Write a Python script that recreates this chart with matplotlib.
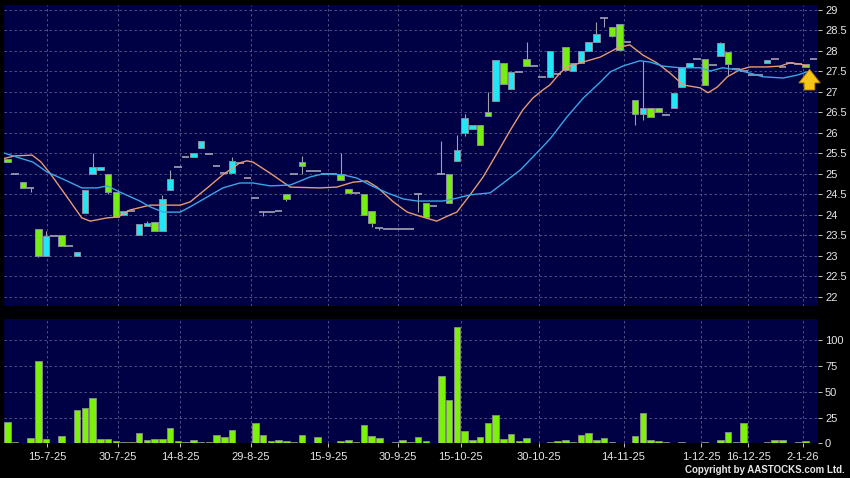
import matplotlib
matplotlib.use("Agg")
import matplotlib.pyplot as plt
import numpy as np

plt.rcParams['font.family'] = ['Liberation Sans', 'DejaVu Sans']

# daily bars (open, high, low, close)
opens = [25.29, 25.0, 24.66, 24.66, 23.0, 23.49, 23.49, 23.24, 23.24, 23.1,
         24.61, 25.17, 25.17, 24.56, 23.95, 24.1, 24.1, 23.78, 23.8, 23.61,
         24.39, 24.88, 25.17, 25.41, 25.51, 25.8, 25.49, 25.2, 25.02, 25.32,
         25.27, 24.9, 24.41, 24.07, 24.07, 24.1, 24.39, 25.0, 25.2, 25.07,
         25.07, 25.0, 25.0, 24.85, 24.54, 24.54, 24.0, 23.8, 23.68, 23.66,
         23.66, 23.66, 23.66, 24.51, 23.95, 24.22, 25.0, 24.29, 25.59, 26.37,
         26.2, 25.7, 26.41, 27.78, 27.2, 27.49, 27.49, 27.63, 27.63, 27.37,
         28.0, 27.45, 27.54, 27.71, 28.0, 28.22, 28.41, 28.8, 28.37, 28.02,
         28.22, 26.46, 26.61, 26.39, 26.51, 26.44, 26.98, 27.61, 27.71, 27.8,
         27.17, 27.66, 28.2, 27.68, 27.56, 27.5, 27.41, 27.41, 27.78, 27.8,
         27.62, 27.7, 27.68, 27.61, 27.8]
closes = [25.37, 25.0, 24.80, 24.66, 23.66, 23.0, 23.49, 23.51, 23.24, 23.0,
          24.05, 25.0, 25.1, 25.0, 24.56, 24.0, 24.1, 23.51, 23.74, 23.83,
          23.61, 24.61, 25.17, 25.41, 25.41, 25.63, 25.49, 25.2, 25.02, 25.02,
          25.27, 24.9, 24.41, 24.07, 24.07, 24.1, 24.51, 25.0, 25.29, 25.07,
          25.07, 25.0, 25.0, 25.0, 24.63, 24.54, 24.51, 24.1, 23.68, 23.66,
          23.66, 23.66, 23.66, 24.51, 24.29, 24.22, 25.0, 25.0, 25.32, 26.0,
          26.1, 26.2, 26.51, 26.78, 27.71, 27.07, 27.49, 27.8, 27.63, 27.37,
          27.37, 27.45, 28.1, 27.51, 27.71, 28.0, 28.22, 28.8, 28.59, 28.66,
          28.22, 26.8, 26.46, 26.61, 26.61, 26.44, 26.61, 27.12, 27.61, 27.8,
          27.8, 27.66, 27.88, 27.98, 27.56, 27.5, 27.41, 27.41, 27.71, 27.8,
          27.62, 27.7, 27.68, 27.68, 27.8]
highs = [25.37, 25.0, 24.80, 24.66, 23.66, 23.62, 23.49, 23.51, 23.24, 23.1,
         24.61, 25.51, 25.17, 25.0, 24.56, 24.1, 24.1, 23.78, 23.85, 23.83,
         24.49, 25.1, 25.17, 25.41, 25.51, 25.8, 25.49, 25.2, 25.02, 25.41,
         25.27, 24.9, 24.41, 24.07, 24.07, 24.1, 24.51, 25.0, 25.44, 25.07,
         25.07, 25.0, 25.0, 25.51, 24.63, 24.54, 24.51, 24.1, 23.68, 23.66,
         23.66, 23.66, 23.66, 24.51, 24.29, 24.22, 25.8, 25.0, 25.95, 26.46,
         26.2, 26.2, 27.0, 27.78, 27.71, 27.49, 27.49, 28.22, 27.63, 27.37,
         28.0, 27.45, 28.1, 27.71, 28.0, 28.22, 28.71, 28.8, 28.59, 28.66,
         28.22, 26.8, 27.75, 26.61, 26.61, 26.44, 26.98, 27.61, 27.71, 27.8,
         27.8, 27.66, 28.22, 27.98, 27.56, 27.5, 27.41, 27.41, 27.78, 27.8,
         27.62, 27.7, 27.68, 27.68, 27.8]
lows = [25.29, 25.0, 24.66, 24.55, 22.98, 23.0, 23.49, 23.24, 23.24, 23.0,
        24.05, 25.0, 25.1, 24.51, 23.95, 24.0, 24.1, 23.51, 23.74, 23.61,
        23.61, 24.61, 25.17, 25.41, 25.41, 25.63, 25.49, 25.2, 25.02, 25.02,
        25.27, 24.9, 24.41, 23.98, 24.07, 24.1, 24.34, 25.0, 25.0, 25.07,
        25.07, 25.0, 25.0, 24.85, 24.54, 24.54, 24.0, 23.71, 23.63, 23.66,
        23.66, 23.66, 23.66, 24.07, 23.95, 24.22, 25.0, 24.29, 25.32, 25.93,
        26.1, 25.7, 26.41, 26.78, 27.2, 27.07, 27.49, 27.63, 27.63, 27.37,
        27.37, 27.45, 27.5, 27.51, 27.71, 28.0, 28.22, 28.59, 28.34, 28.02,
        28.22, 26.2, 26.32, 26.39, 26.51, 26.44, 26.61, 27.12, 27.61, 27.8,
        27.17, 27.66, 27.88, 27.41, 27.56, 27.5, 27.41, 27.41, 27.71, 27.8,
        27.62, 27.7, 27.68, 27.61, 27.8]
volumes = [21, 1, 0.5, 5, 80, 4, 0.5, 7, 0, 32,
           34, 44, 4, 4, 2, 1, 1, 10, 3, 4,
           4, 15, 2, 1, 3, 1, 1, 8, 6, 13,
           0, 0, 20, 8, 2, 3, 2, 1, 8, 0,
           6, 0, 0, 2, 3, 1, 18, 7, 5, 0,
           1, 3, 1, 6, 2, 0, 65, 42, 113, 12,
           3, 6, 20, 28, 4, 9, 2, 5, 0, 0,
           1, 2, 3, 1.5, 8, 10, 3, 5, 1, 0.5,
           0, 7, 29, 3, 2, 1, 0, 1, 0, 0,
           1, 0, 3.5, 11, 1, 20, 0, 0.5, 1, 3,
           3.5, 0, 1, 2, 0]

# moving averages, sampled along the lines (bar index, price)
ma_short_x = [-0.4, 1.0, 3.2, 4.3, 5.5, 7.7, 9.6, 10.7, 12.9, 14.3, 15.8, 18.4,
              22.3, 23.6, 25.8, 27.8, 30.0, 30.9, 31.7, 33.9, 35.2, 36.5, 40.3,
              42.5, 44.6, 46.4, 47.7, 49.8, 51.6, 53.6, 55.4, 57.1, 58.0, 59.7,
              61.4, 63.2, 64.9, 66.5, 67.8, 69.1, 70.0, 71.3, 72.2, 74.3, 76.5,
              78.7, 80.3, 82.0, 83.8, 85.5, 87.2, 89.4, 90.4, 91.6, 92.9, 94.5,
              95.8, 98.0, 99.7, 101.0, 102.3, 103.2]
ma_short = [25.38, 25.44, 25.46, 25.3, 25.02, 24.44, 23.93, 23.85, 23.93, 23.95,
            24.12, 24.24, 24.24, 24.32, 24.66, 24.98, 25.27, 25.32, 25.29, 25.02,
            24.85, 24.68, 24.66, 24.68, 24.8, 24.83, 24.68, 24.32, 24.07, 23.95,
            23.85, 24.0, 24.07, 24.49, 24.93, 25.51, 26.07, 26.56, 26.85, 27.05,
            27.17, 27.46, 27.61, 27.73, 27.85, 28.07, 28.15, 27.9, 27.71, 27.46,
            27.17, 27.1, 26.98, 27.12, 27.37, 27.54, 27.61, 27.61, 27.63, 27.71,
            27.68, 27.63]
ma_long_x = [-0.4, 1.25, 3.3, 5.1, 7.7, 9.6, 11.6, 12.9, 14.5, 17.1, 18.4, 20.1,
             22.3, 23.6, 25.8, 27.8, 30.0, 31.7, 33.9, 36.5, 39.1, 40.7, 43.3,
             45.1, 46.8, 49.0, 51.1, 52.9, 54.5, 56.2, 58.0, 59.7, 62.3, 64.0,
             66.2, 68.3, 70.0, 72.2, 74.3, 76.5, 77.8, 79.4, 81.6, 82.9, 84.6,
             86.8, 89.4, 90.7, 92.3, 94.1, 95.8, 97.5, 100.1, 101.9, 103.2]
ma_long = [25.51, 25.41, 25.29, 25.05, 24.83, 24.66, 24.66, 24.71, 24.56, 24.34,
           24.2, 24.07, 24.07, 24.2, 24.44, 24.66, 24.78, 24.78, 24.71, 24.73,
           24.93, 25.0, 24.98, 24.9, 24.73, 24.54, 24.39, 24.34, 24.34, 24.34,
           24.41, 24.49, 24.54, 24.78, 25.1, 25.51, 25.85, 26.39, 26.85, 27.24,
           27.49, 27.63, 27.76, 27.73, 27.63, 27.59, 27.59, 27.51, 27.59, 27.54,
           27.46, 27.37, 27.34, 27.41, 27.49]

tick_pos = [5.1, 14.3, 22.3, 31.4, 41.4, 50.4, 58.5, 68.6, 79.5, 89.5, 95.6, 102.6]
tick_labels = ["15-7-25", "30-7-25", "14-8-25", "29-8-25", "15-9-25", "30-9-25",
               "15-10-25", "30-10-25", "14-11-25", "1-12-25", "16-12-25", "2-1-26"]
price_ticks = np.arange(22, 29.01, 0.5)
vol_ticks = [0, 25, 50, 75, 100]

BG = "#000044"
GRID = "#5c5c8c"
GREEN = "#77ee11"
CYAN = "#22e6f4"
EDGE = "#8c8c9c"
TXT = "#e6e6e6"

fig = plt.figure(figsize=(8.5, 4.78), dpi=100, facecolor="black")
ax = fig.add_axes([0.0047, 0.3598, 0.9577, 0.6297])
axv = fig.add_axes([0.0047, 0.0722, 0.9577, 0.2598])

idx = np.arange(len(opens))
o = np.array(opens)
c = np.array(closes)
h = np.array(highs)
l = np.array(lows)

for a in (ax, axv):
    a.set_facecolor(BG)
    a.set_xlim(-0.43, 104.6)
    for s in a.spines.values():
        s.set_visible(False)
    a.yaxis.tick_right()
    a.tick_params(axis="y", colors=TXT, labelsize=8, length=3, pad=2, width=0.6)
    a.set_xticks(tick_pos)
    a.grid(True, color=GRID, linestyle=(0, (3, 3)), linewidth=0.6)
    a.set_axisbelow(True)

# price panel
ax.set_ylim(21.78, 29.12)
ax.set_yticks(price_ticks)
ax.set_yticklabels(["%g" % v for v in price_ticks])
ax.tick_params(axis="x", length=0, labelbottom=False)

ax.vlines(idx, l, h, color="#a0a0a8", linewidth=0.8, zorder=2)
up = c > o
dn = c < o
flat = c == o
ax.bar(idx[up], (c - o)[up], bottom=o[up], width=0.82, color=GREEN,
       edgecolor=EDGE, linewidth=0.7, zorder=3)
ax.bar(idx[dn], (o - c)[dn], bottom=c[dn], width=0.82, color=CYAN,
       edgecolor=EDGE, linewidth=0.7, zorder=3)
ax.hlines(o[flat], idx[flat] - 0.5, idx[flat] + 0.5, color="#a4a4b4",
          linewidth=1.2, zorder=3)

ax.plot(ma_short_x, ma_short, color="#e89a70", linewidth=1.0, zorder=4)
ax.plot(ma_long_x, ma_long, color="#3aa6e8", linewidth=1.0, zorder=4)

ax.annotate("", xy=(103.5, 27.62), xytext=(103.5, 26.98),
            arrowprops=dict(arrowstyle="simple,head_length=0.7,head_width=1.1,tail_width=0.55",
                            fc="#f5c518", ec="#b07a00", lw=0.6, mutation_scale=14),
            zorder=6)

# volume panel
axv.set_ylim(0, 120)
axv.set_yticks(vol_ticks)
axv.bar(idx, volumes, width=0.82, color="#7cf20a", edgecolor="#8c8c8c",
        linewidth=0.6, zorder=3)
axv.set_xticklabels(tick_labels)
axv.tick_params(axis="x", colors=TXT, labelsize=8, length=3, pad=3, width=0.6)

fig.text(0.994, 0.006, "Copyright by AASTOCKS.com Ltd.", color=TXT,
         fontsize=7, ha="right", va="bottom", fontweight="bold")

fig.savefig("out.png", dpi=100, facecolor="black")
